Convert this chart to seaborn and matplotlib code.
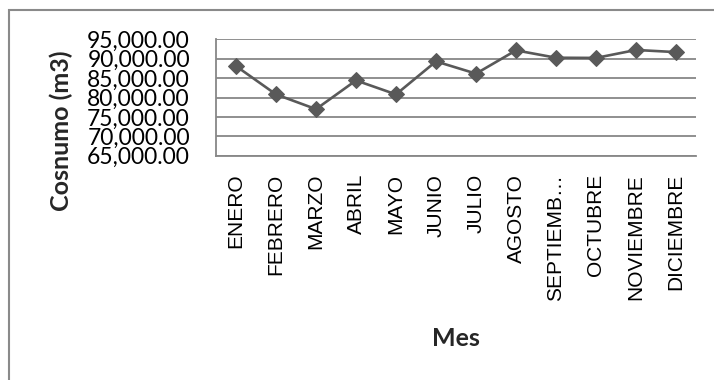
import matplotlib
matplotlib.use("Agg")
import matplotlib.pyplot as plt
from matplotlib.patches import Rectangle
from matplotlib.ticker import FuncFormatter
import seaborn as sns
import pandas as pd

# ---- data ----
months = ["ENERO", "FEBRERO", "MARZO", "ABRIL", "MAYO", "JUNIO", "JULIO",
          "AGOSTO", "SEPTIEMBRE", "OCTUBRE", "NOVIEMBRE", "DICIEMBRE"]
month_labels = ["ENERO", "FEBRERO", "MARZO", "ABRIL", "MAYO", "JUNIO", "JULIO",
                "AGOSTO", "SEPTIEMB\u2026", "OCTUBRE", "NOVIEMBRE", "DICIEMBRE"]
consumo = [88100, 80800, 77000, 84400, 80800, 89300, 86150,
           92150, 90250, 90200, 92250, 91700]
y_ticks = [65000, 70000, 75000, 80000, 85000, 90000, 95000]

df = pd.DataFrame({"Mes": months, "Consumo": consumo})

sns.set_style("white")
plt.rcParams["font.family"] = ["Lato", "DejaVu Sans"]

W, H = 714, 380
fig = plt.figure(figsize=(W / 100, H / 100), dpi=100)
ax_l, ax_r, ax_t, ax_b = 216, 696, 39.3, 155.7
ax = fig.add_axes([ax_l / W, 1 - ax_b / H, (ax_r - ax_l) / W, (ax_b - ax_t) / H])

grid_c = "#878787"
line_c = "#595959"

sns.lineplot(data=df, x="Mes", y="Consumo", ax=ax, sort=False,
             color=line_c, linewidth=1.9, marker="D", markersize=8.5,
             markeredgecolor=line_c, markerfacecolor=line_c, zorder=3)

ax.set_xlim(-0.5, len(months) - 0.5)
ax.set_ylim(y_ticks[0], y_ticks[-1])
ax.set_yticks(y_ticks)
ax.yaxis.set_major_formatter(FuncFormatter(lambda v, p: f"{v:,.2f}"))
ax.set_xticks(range(len(months)))
ax.set_xticklabels(month_labels, rotation=90, family="Liberation Sans", fontsize=15)
for lab in ax.get_yticklabels():
    lab.set_fontsize(16.5)

ax.grid(axis="y", color=grid_c, linewidth=1.3)
ax.set_axisbelow(True)
for s in ["top", "right"]:
    ax.spines[s].set_visible(False)
for s in ["left", "bottom"]:
    ax.spines[s].set_color(grid_c)
    ax.spines[s].set_linewidth(1.3)
ax.tick_params(axis="y", length=5.8, width=1.3, color=grid_c, pad=13, labelcolor="black")
ax.tick_params(axis="x", length=0, pad=13, labelcolor="black")

ax.set_ylabel("Cosnumo (m3)", fontsize=18, fontweight="bold")
ax.set_xlabel("Mes", fontsize=18, fontweight="bold")
ax.yaxis.label.set_verticalalignment("center")
ax.yaxis.set_label_coords((61 - ax_l) / (ax_r - ax_l), (ax_b - 131) / (ax_b - ax_t))
ax.xaxis.label.set_verticalalignment("center")
ax.xaxis.set_label_coords(0.5, (ax_b - 338) / (ax_b - ax_t))

# chart area border (top and left visible)
fig.add_artist(Rectangle((9 / W, -0.1), 1.2, 1 - 10 / H + 0.1,
                         transform=fig.transFigure, fill=False,
                         edgecolor="#8a8a8a", linewidth=1.5, clip_on=False))

fig.savefig("out.png", dpi=100, facecolor="white")
